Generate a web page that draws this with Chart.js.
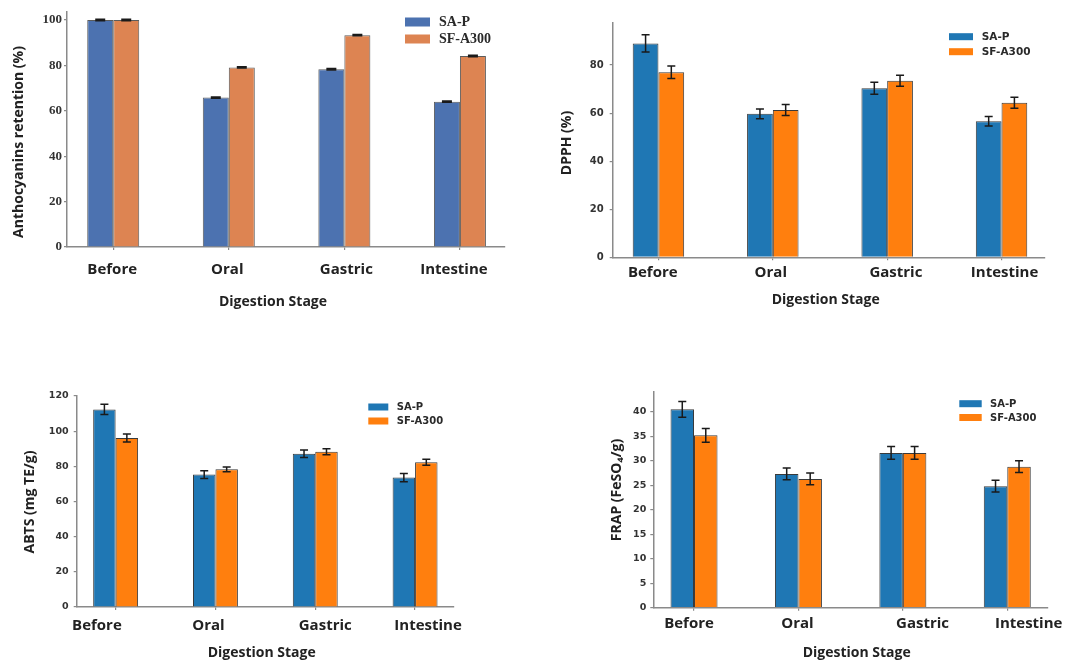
<!DOCTYPE html>
<html>
<head>
<meta charset="utf-8">
<script src="https://cdn.jsdelivr.net/npm/chart.js@4.4.1/dist/chart.umd.min.js"></script>
<style>
  body { margin: 0; background: #fff; width: 1065px; height: 660px; position: relative; overflow: hidden; }
  canvas { position: absolute; }
</style>
</head>
<body>
<canvas id="c1"></canvas>
<canvas id="c2"></canvas>
<canvas id="c3"></canvas>
<canvas id="c4"></canvas>
<script>
// data
const stages = ['Before', 'Oral', 'Gastric', 'Intestine'];
const seriesNames = ['SA-P', 'SF-A300'];

const anthoSAP = [100, 65.8, 78.3, 64.0];
const anthoSF = [100, 79.1, 93.3, 84.1];
const anthoSAPErr = [0.3, 0.3, 0.3, 0.3];
const anthoSFErr = [0.3, 0.3, 0.3, 0.3];
const anthoTicks = [0, 20, 40, 60, 80, 100];

const dpphSAP = [89.0, 59.7, 70.3, 56.6];
const dpphSF = [77.0, 61.3, 73.5, 64.3];
const dpphSAPErr = [3.6, 2.0, 2.5, 2.0];
const dpphSFErr = [2.6, 2.3, 2.3, 2.3];
const dpphTicks = [0, 20, 40, 60, 80];

const abtsSAP = [112.4, 75.3, 87.2, 73.6];
const abtsSF = [96.1, 78.3, 88.3, 82.3];
const abtsSAPErr = [2.9, 2.2, 2.1, 2.4];
const abtsSFErr = [2.3, 1.3, 1.7, 1.7];
const abtsTicks = [0, 20, 40, 60, 80, 100, 120];

const frapSAP = [40.5, 27.3, 31.6, 24.8];
const frapSF = [35.2, 26.3, 31.6, 28.8];
const frapSAPErr = [1.6, 1.2, 1.3, 1.2];
const frapSFErr = [1.4, 1.2, 1.3, 1.2];
const frapTicks = [0, 5, 10, 15, 20, 25, 30, 35, 40];

const SANS = "'Open Sans', 'DejaVu Sans', sans-serif";
const SMALL = "'DejaVu Sans', sans-serif";
const SERIF = "'Liberation Serif', serif";

const panels = [
  {
    id: 'c1', left: 0, top: 0, width: 540, height: 320,
    area: { left: 67, right: 505, top: 12, bottom: 247 },
    xRange: [-0.4, 3.39], yMax: 103.5, yTicks: anthoTicks,
    sap: anthoSAP, sf: anthoSF, sapErr: anthoSAPErr, sfErr: anthoSFErr,
    colors: ['#4c72b0', '#dd8452'], edge: '#5c5c5c', axis: '#8a8a8a', cap: 5,
    yTickFont: { family: SERIF, size: 13, weight: 'bold' }, yTickPad: 2,
    yTitle: { text: 'Anthocyanins retention (%)', x: 19, y: 142 },
    xTitle: { x: 273, y: 306 },
    xLabelY: 274, xShift: [-1, -1.5, 2, -6],
    legend: { x: 405, w: 25, h: 9, ys: [22, 39], textX: 439, font: 'bold 14px ' + SERIF }
  },
  {
    id: 'c2', left: 540, top: 0, width: 525, height: 320,
    area: { left: 72.7, right: 505, top: 23, bottom: 257.3 },
    xRange: [-0.4, 3.38], yMax: 97.5, yTicks: dpphTicks,
    sap: dpphSAP, sf: dpphSF, sapErr: dpphSAPErr, sfErr: dpphSFErr,
    colors: ['#1f77b4', '#ff7f0e'], edge: '#3a3a3a', axis: '#8a8a8a', cap: 4,
    yTickFont: { family: SMALL, size: 10, weight: 'bold' }, yTickPad: 6,
    yTitle: { text: 'DPPH (%)', x: 26.7, y: 143 },
    xTitle: { x: 285.7, y: 304 },
    xLabelY: 277, xShift: [-5.7, -2, 8.7, 3],
    legend: { x: 409, w: 24, h: 7, ys: [36.7, 51.7], textX: 441.7, font: 'bold 10.5px ' + SMALL }
  },
  {
    id: 'c3', left: 0, top: 330, width: 540, height: 330,
    area: { left: 76.7, right: 454, top: 65.5, bottom: 277 },
    xRange: [-0.39, 3.39], yMax: 120.3, yTicks: abtsTicks,
    sap: abtsSAP, sf: abtsSF, sapErr: abtsSAPErr, sfErr: abtsSFErr,
    colors: ['#1f77b4', '#ff7f0e'], edge: '#3a3a3a', axis: '#8a8a8a', cap: 4,
    yTickFont: { family: SMALL, size: 9.5, weight: 'bold' }, yTickPad: 5,
    yTitle: { text: 'ABTS (mg TE/g)', x: 30, y: 172 },
    xTitle: { x: 261.7, y: 326.7 },
    xLabelY: 300, xShift: [-18.7, -7, 10, 13],
    legend: { x: 368.3, w: 20, h: 7, ys: [77, 91], textX: 396.7, font: 'bold 10px ' + SMALL }
  },
  {
    id: 'c4', left: 540, top: 330, width: 525, height: 330,
    area: { left: 113.3, right: 508, top: 61.7, bottom: 277.7 },
    xRange: [-0.39, 3.39], yMax: 44.1, yTicks: frapTicks,
    sap: frapSAP, sf: frapSF, sapErr: frapSAPErr, sfErr: frapSFErr,
    colors: ['#1f77b4', '#ff7f0e'], edge: '#3a3a3a', axis: '#8a8a8a', cap: 4,
    yTickFont: { family: SMALL, size: 9.5, weight: 'bold' }, yTickPad: 4,
    yTitle: { text: 'FRAP (FeSO\u2084/g)', x: 76.7, y: 160 },
    xTitle: { x: 316.7, y: 327.3 },
    xLabelY: 298, xShift: [-5, -1, 19.7, 21.4],
    legend: { x: 419.3, w: 22.4, h: 7, ys: [73.7, 87.5], textX: 450, font: 'bold 10px ' + SMALL }
  }
];

// error bars, stage labels, axis titles and the inset legend
function makeDecor(p) {
  return {
    id: 'decor_' + p.id,
    afterDatasetsDraw(chart) {
      const ctx = chart.ctx;
      const y = chart.scales.y;
      ctx.save();
      ctx.strokeStyle = '#1a1a1a';
      ctx.lineWidth = 1.5;
      chart.data.datasets.forEach((ds, di) => {
        const meta = chart.getDatasetMeta(di);
        meta.data.forEach((bar, i) => {
          const v = ds.data[i].y, e = ds.errors[i];
          const yt = y.getPixelForValue(v + e), yb = y.getPixelForValue(v - e);
          ctx.beginPath();
          ctx.moveTo(bar.x, yt); ctx.lineTo(bar.x, yb);
          ctx.moveTo(bar.x - p.cap, yt); ctx.lineTo(bar.x + p.cap, yt);
          ctx.moveTo(bar.x - p.cap, yb); ctx.lineTo(bar.x + p.cap, yb);
          ctx.stroke();
        });
      });
      ctx.restore();
    },
    afterDraw(chart) {
      const ctx = chart.ctx;
      const x = chart.scales.x;
      ctx.save();
      ctx.fillStyle = '#222';
      ctx.textAlign = 'center';
      ctx.textBaseline = 'alphabetic';
      ctx.font = 'bold 15px ' + SANS;
      stages.forEach((s, i) => {
        ctx.fillText(s, x.getPixelForValue(i) + p.xShift[i], p.xLabelY);
      });
      ctx.font = 'bold 14px ' + SANS;
      ctx.fillText('Digestion Stage', p.xTitle.x, p.xTitle.y);

      ctx.save();
      ctx.translate(p.yTitle.x, p.yTitle.y);
      ctx.rotate(-Math.PI / 2);
      ctx.textBaseline = 'middle';
      ctx.fillText(p.yTitle.text, 0, 0);
      ctx.restore();

      const lg = p.legend;
      ctx.textAlign = 'left';
      ctx.textBaseline = 'middle';
      ctx.font = lg.font;
      chart.data.datasets.forEach((ds, di) => {
        const cy = lg.ys[di];
        ctx.fillStyle = ds.backgroundColor;
        ctx.fillRect(lg.x, cy - lg.h / 2, lg.w, lg.h);
        ctx.fillStyle = '#2a2a2a';
        ctx.fillText(ds.label, lg.textX, cy + 0.5);
      });
      ctx.restore();
    }
  };
}

function makeChart(p) {
  const canvas = document.getElementById(p.id);
  canvas.width = p.width;
  canvas.height = p.height;
  canvas.style.left = p.left + 'px';
  canvas.style.top = p.top + 'px';
  canvas.style.width = p.width + 'px';
  canvas.style.height = p.height + 'px';

  const series = [[p.sap, p.sapErr], [p.sf, p.sfErr]];
  const datasets = series.map(([vals, errs], k) => ({
    label: seriesNames[k],
    data: stages.map((s, i) => ({ x: i, y: vals[i] })),
    errors: errs,
    backgroundColor: p.colors[k],
    borderColor: p.edge,
    borderWidth: 1,
    barPercentage: 1,
    categoryPercentage: 0.45
  }));

  const axisGrid = { drawOnChartArea: false, drawTicks: true, tickLength: 3, color: p.axis, lineWidth: 1.2, offset: false };

  new Chart(canvas, {
    type: 'bar',
    data: { datasets },
    options: {
      responsive: false,
      animation: false,
      devicePixelRatio: 1,
      layout: { padding: { left: 0, top: p.area.top, right: p.width - p.area.right, bottom: 0 } },
      plugins: { legend: { display: false }, tooltip: { enabled: false } },
      scales: {
        x: {
          type: 'linear',
          bounds: 'data',
          offset: false,
          min: p.xRange[0],
          max: p.xRange[1],
          afterBuildTicks: s => { s.ticks = stages.map((_, i) => ({ value: i })); },
          afterFit: s => { s.height = p.height - p.area.bottom; },
          ticks: { display: false },
          grid: axisGrid,
          border: { color: p.axis, width: 1.5 }
        },
        y: {
          bounds: 'data',
          min: 0,
          max: p.yMax,
          afterBuildTicks: s => { s.ticks = p.yTicks.map(v => ({ value: v })); },
          afterFit: s => { s.width = p.area.left; },
          ticks: { font: p.yTickFont, color: '#333', padding: p.yTickPad },
          grid: axisGrid,
          border: { color: p.axis, width: 1.5 }
        }
      }
    },
    plugins: [makeDecor(p)]
  });
}

panels.forEach(makeChart);
</script>
</body>
</html>
